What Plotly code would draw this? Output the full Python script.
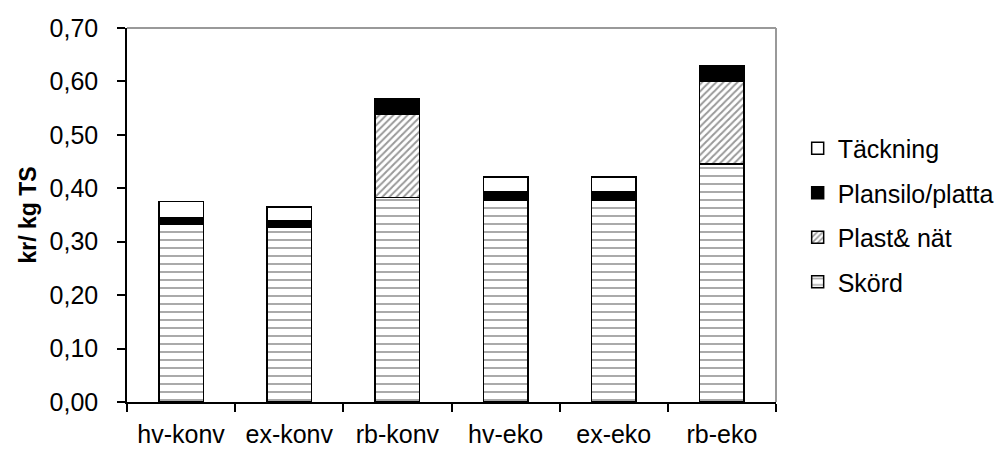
import plotly.graph_objects as go

categories = ["hv-konv", "ex-konv", "rb-konv", "hv-eko", "ex-eko", "rb-eko"]
skord = [0.333, 0.327, 0.383, 0.378, 0.378, 0.445]
plast_nat = [0.0, 0.0, 0.155, 0.0, 0.0, 0.155]
plansilo = [0.012, 0.013, 0.030, 0.016, 0.016, 0.030]
tackning = [0.030, 0.025, 0.0, 0.027, 0.027, 0.0]
y_ticks = [0.0, 0.1, 0.2, 0.3, 0.4, 0.5, 0.6, 0.7]

FONT = "Liberation Sans, Arial, sans-serif"
FS = 25
line = dict(color="black", width=1.5)

fig = go.Figure()
fig.add_trace(go.Bar(
    name="Skörd", x=categories, y=skord, legendgroup="a", legendrank=4,
    marker=dict(color="white", line=line,
                pattern=dict(shape="-", size=8, solidity=0.25, fgcolor="#555", bgcolor="white"))))
fig.add_trace(go.Bar(
    name="Plast& nät", x=categories, y=plast_nat, legendgroup="b", legendrank=3,
    marker=dict(color="white", line=line,
                pattern=dict(shape="/", size=5, solidity=0.4, fgcolor="#333", bgcolor="white"))))
fig.add_trace(go.Bar(
    name="Plansilo/platta", x=categories, y=plansilo, legendgroup="c", legendrank=2,
    marker=dict(color="black", line=line)))
fig.add_trace(go.Bar(
    name="Täckning", x=categories, y=tackning, legendgroup="d", legendrank=1,
    marker=dict(color="white", line=line)))

fig.update_layout(
    width=1008, height=450,
    margin=dict(l=119, r=240, t=20, b=56, autoexpand=False),
    barmode="stack", bargap=0.59,
    paper_bgcolor="white", plot_bgcolor="white",
    separators=", ",
    font=dict(family=FONT, size=FS, color="black"),
    showlegend=True,
    legend=dict(traceorder="grouped", x=1.0334, xanchor="left", y=0.5, yanchor="middle",
                font=dict(size=FS), tracegroupgap=9, bgcolor="rgba(0,0,0,0)"),
    shapes=[
        dict(type="line", xref="paper", yref="paper", x0=0, x1=1, y0=1, y1=1,
             line=dict(color="#999", width=2)),
        dict(type="line", xref="paper", yref="paper", x0=1, x1=1, y0=0, y1=1,
             line=dict(color="#999", width=2)),
    ],
)
fig.update_xaxes(
    type="category", showline=True, linecolor="black", linewidth=1.5,
    ticks="outside", tickson="boundaries", ticklen=8, tickcolor="black", tickwidth=1.5,
    ticklabelstandoff=9, showgrid=False, zeroline=False, automargin=False,
    tickfont=dict(size=FS),
)
fig.update_yaxes(
    range=[0, 0.7], tickvals=y_ticks, tickformat=".2f",
    showline=True, linecolor="black", linewidth=1.5,
    ticks="outside", ticklen=8, tickcolor="black", tickwidth=1.5,
    ticklabelstandoff=14, showgrid=False, zeroline=False, automargin=False,
    tickfont=dict(size=FS),
    title=dict(text="<b>kr/ kg TS</b>", font=dict(size=FS - 2), standoff=7),
)

fig.write_html("out.html")
